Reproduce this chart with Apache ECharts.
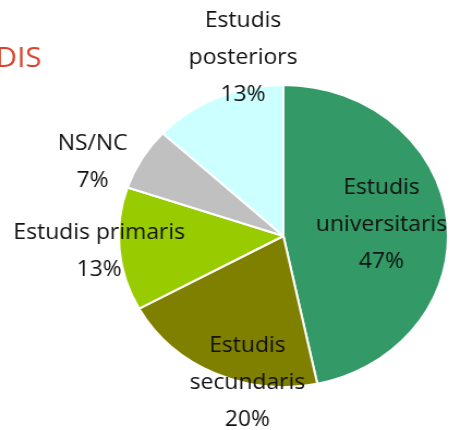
<!DOCTYPE html>
<html>
<head>
<meta charset="utf-8">
<script src="https://cdn.jsdelivr.net/npm/echarts@6/dist/echarts.min.js"></script>
<style>
    html, body { margin: 0; padding: 0; background: #fff; overflow: hidden; }
    /* the original pie is a bit wider than tall, so the chart is stretched sideways */
    #chart { width: 414px; height: 430px; transform: scaleX(1.09); transform-origin: 0 0; }
</style>
</head>
<body>
<div id="chart"></div>
<script>
var categories = ['Estudis universitaris', 'Estudis secundaris', 'Estudis primaris', 'NS/NC', 'Estudis posteriors'];
var labelText = ['Estudis\nuniversitaris', 'Estudis\nsecundaris', 'Estudis primaris', 'NS/NC', 'Estudis\nposteriors'];
var values = [46.7, 20.3, 13.2, 6.7, 13.1];
var colors = ['#339966', '#808000', '#99cc00', '#c0c0c0', '#ccffff'];

// label centres, in chart pixels (before the sideways stretch)
var labelPos = [[350, 225], [227, 383], [91, 252], [85, 163], [223, 58]];

var chart = echarts.init(document.getElementById('chart'));

var data = [];
for (var i = 0; i < categories.length; i++) {
    data.push({
        name: categories[i],
        value: values[i],
        itemStyle: { color: colors[i] }
    });
}

chart.setOption({
    animation: false,
    graphic: [{
        type: 'text',
        style: {
            text: 'ESTUDIS',
            x: 38,
            y: 59,
            textAlign: 'right',
            textVerticalAlign: 'middle',
            fill: '#d9432a',
            font: '27px "Open Sans", sans-serif'
        }
    }],
    series: [{
        type: 'pie',
        center: [260, 236],
        radius: 151,
        startAngle: 90,
        clockwise: true,
        data: data,
        itemStyle: {
            borderColor: '#fff',
            borderWidth: 2
        },
        label: {
            show: true,
            position: 'outside',
            overflow: 'none',
            color: '#111',
            fontFamily: 'Open Sans',
            fontSize: 21,
            lineHeight: 37,
            align: 'center',
            formatter: function(p) {
                return labelText[p.dataIndex] + '\n' + Math.round(p.percent) + '%';
            }
        },
        labelLine: { show: false },
        labelLayout: function(p) {
            return {
                x: labelPos[p.dataIndex][0],
                y: labelPos[p.dataIndex][1],
                align: 'center',
                verticalAlign: 'middle',
                hideOverlap: false
            };
        }
    }]
});
</script>
</body>
</html>
